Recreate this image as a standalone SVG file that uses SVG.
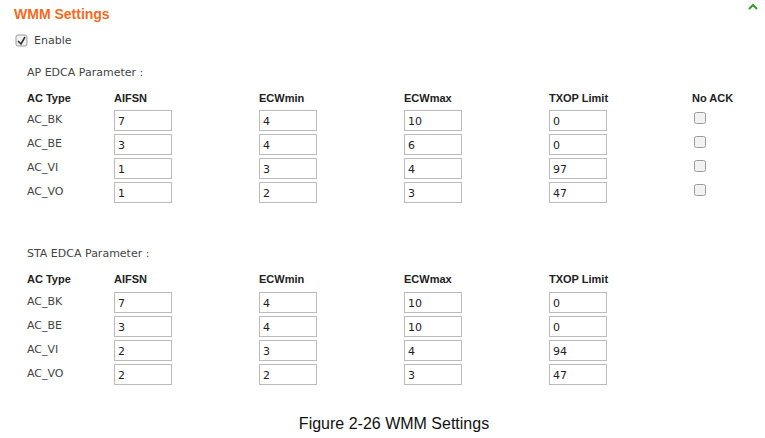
<svg xmlns="http://www.w3.org/2000/svg" width="765" height="438" viewBox="0 0 765 438">
<style>
text{font-family:"Liberation Sans",Arial,sans-serif;font-size:11px;fill:#333}
.h{font-weight:bold;fill:#222}
.t{font-family:"DejaVu Sans",Verdana,sans-serif;font-size:11px;fill:#444}
.in{fill:#fff;stroke:#bbb;stroke-width:1}
.cb{fill:#f2f2f2;stroke:#999;stroke-width:1}
.v{font-family:"DejaVu Sans",Verdana,sans-serif;font-size:11px;fill:#222}
</style>
<rect width="765" height="438" fill="#fff"/>
<g id="title"><text x="14" y="19" style="font-size:14px;font-weight:bold;fill:#f26b1d">WMM Settings</text>
<path d="M749 9 L753 5 L757 9" fill="none" stroke="#3a9a2a" stroke-width="2"/></g>
<g id="enable"><rect class="cb" x="16" y="35" width="11" height="11" rx="2"/>
<path d="M18 41 L21 44 L25 37" fill="none" stroke="#333" stroke-width="1.6"/>
<text x="34" y="44" class="t">Enable</text></g>
<g id="ap">
<text x="27" y="76" class="t">AP EDCA Parameter :</text>
<text x="27" y="102" class="h">AC Type</text><text x="114" y="102" class="h">AIFSN</text><text x="259" y="102" class="h">ECWmin</text><text x="404" y="102" class="h">ECWmax</text><text x="549" y="102" class="h">TXOP Limit</text><text x="692" y="102" class="h">No ACK</text>
<text x="27" y="123" class="t">AC_BK</text><text x="27" y="147" class="t">AC_BE</text><text x="27" y="171" class="t">AC_VI</text><text x="27" y="195" class="t">AC_VO</text>
<g id="ap-inputs">
<rect class="in" x="114.5" y="110.5" width="57" height="20"/><rect class="in" x="259.5" y="110.5" width="57" height="20"/><rect class="in" x="404.5" y="110.5" width="57" height="20"/><rect class="in" x="549.5" y="110.5" width="57" height="20"/>
<rect class="in" x="114.5" y="134.5" width="57" height="20"/><rect class="in" x="259.5" y="134.5" width="57" height="20"/><rect class="in" x="404.5" y="134.5" width="57" height="20"/><rect class="in" x="549.5" y="134.5" width="57" height="20"/>
<rect class="in" x="114.5" y="158.5" width="57" height="20"/><rect class="in" x="259.5" y="158.5" width="57" height="20"/><rect class="in" x="404.5" y="158.5" width="57" height="20"/><rect class="in" x="549.5" y="158.5" width="57" height="20"/>
<rect class="in" x="114.5" y="182.5" width="57" height="20"/><rect class="in" x="259.5" y="182.5" width="57" height="20"/><rect class="in" x="404.5" y="182.5" width="57" height="20"/><rect class="in" x="549.5" y="182.5" width="57" height="20"/>
</g>
<text x="118" y="125" class="v">7</text><text x="263" y="125" class="v">4</text><text x="408" y="125" class="v">10</text><text x="553" y="125" class="v">0</text>
<text x="118" y="149" class="v">3</text><text x="263" y="149" class="v">4</text><text x="408" y="149" class="v">6</text><text x="553" y="149" class="v">0</text>
<text x="118" y="173" class="v">1</text><text x="263" y="173" class="v">3</text><text x="408" y="173" class="v">4</text><text x="553" y="173" class="v">97</text>
<text x="118" y="197" class="v">1</text><text x="263" y="197" class="v">2</text><text x="408" y="197" class="v">3</text><text x="553" y="197" class="v">47</text>
<rect class="cb" x="694.5" y="112.5" width="11" height="11" rx="2"/><rect class="cb" x="694.5" y="136.5" width="11" height="11" rx="2"/><rect class="cb" x="694.5" y="160.5" width="11" height="11" rx="2"/><rect class="cb" x="694.5" y="184.5" width="11" height="11" rx="2"/>
</g>
<g id="sta">
<text x="27" y="257" class="t">STA EDCA Parameter :</text>
<text x="27" y="283" class="h">AC Type</text><text x="114" y="283" class="h">AIFSN</text><text x="259" y="283" class="h">ECWmin</text><text x="404" y="283" class="h">ECWmax</text><text x="549" y="283" class="h">TXOP Limit</text>
<text x="27" y="305" class="t">AC_BK</text><text x="27" y="329" class="t">AC_BE</text><text x="27" y="353" class="t">AC_VI</text><text x="27" y="377" class="t">AC_VO</text>
<rect class="in" x="114.5" y="292.5" width="57" height="20"/><rect class="in" x="259.5" y="292.5" width="57" height="20"/><rect class="in" x="404.5" y="292.5" width="57" height="20"/><rect class="in" x="549.5" y="292.5" width="57" height="20"/>
<rect class="in" x="114.5" y="316.5" width="57" height="20"/><rect class="in" x="259.5" y="316.5" width="57" height="20"/><rect class="in" x="404.5" y="316.5" width="57" height="20"/><rect class="in" x="549.5" y="316.5" width="57" height="20"/>
<rect class="in" x="114.5" y="340.5" width="57" height="20"/><rect class="in" x="259.5" y="340.5" width="57" height="20"/><rect class="in" x="404.5" y="340.5" width="57" height="20"/><rect class="in" x="549.5" y="340.5" width="57" height="20"/>
<rect class="in" x="114.5" y="364.5" width="57" height="20"/><rect class="in" x="259.5" y="364.5" width="57" height="20"/><rect class="in" x="404.5" y="364.5" width="57" height="20"/><rect class="in" x="549.5" y="364.5" width="57" height="20"/>
<text x="118" y="307" class="v">7</text><text x="263" y="307" class="v">4</text><text x="408" y="307" class="v">10</text><text x="553" y="307" class="v">0</text>
<text x="118" y="331" class="v">3</text><text x="263" y="331" class="v">4</text><text x="408" y="331" class="v">10</text><text x="553" y="331" class="v">0</text>
<text x="118" y="355" class="v">2</text><text x="263" y="355" class="v">3</text><text x="408" y="355" class="v">4</text><text x="553" y="355" class="v">94</text>
<text x="118" y="379" class="v">2</text><text x="263" y="379" class="v">2</text><text x="408" y="379" class="v">3</text><text x="553" y="379" class="v">47</text>
</g>
<text x="394" y="429" text-anchor="middle" style="font-size:16px;fill:#111">Figure 2-26 WMM Settings</text>
</svg>
